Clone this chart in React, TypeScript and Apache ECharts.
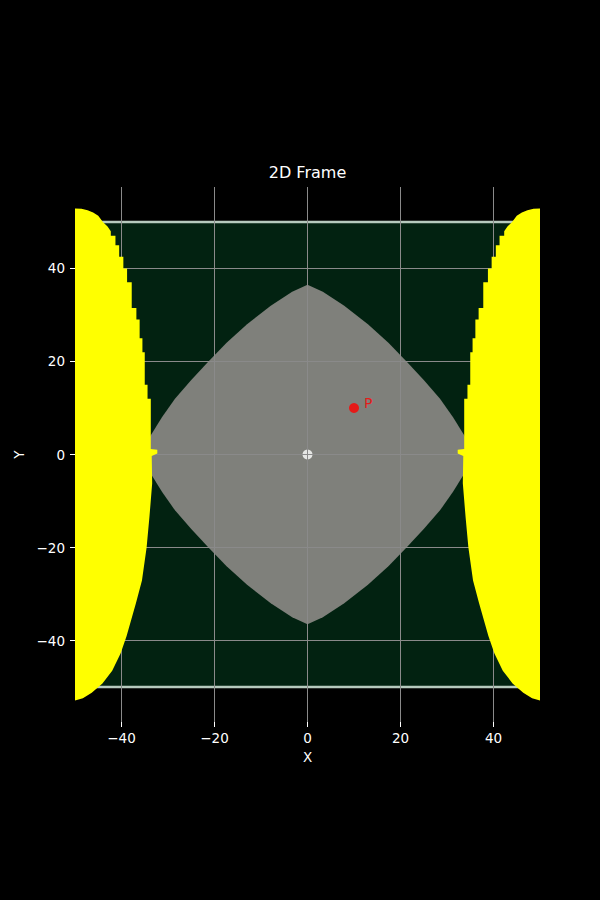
import React, { useEffect, useRef } from "react";
import * as echarts from "echarts";

const TITLE = "2D Frame";
const X_NAME = "X";
const Y_NAME = "Y";
const X_TICKS = [-40, -20, 0, 20, 40];
const Y_TICKS = [-40, -20, 0, 20, 40];
const X_RANGE = [-50, 50];
const Y_RANGE = [-57.5, 57.5];
// frame: [xmin, ymin, xmax, ymax]
const FRAME = [-50, -50, 50, 50];

const GRAY_REGION: number[][] = [
  [0, 36.5], [3.3, 35], [7.9, 32], [13.0, 28], [17.4, 24], [21.3, 20], [25.0, 16], [28.5, 12], [31.3, 8], [33.8, 4], [35.6, 0],
  [33.8, -4], [31.3, -8], [28.5, -12], [25.0, -16], [21.3, -20], [17.4, -24], [13.0, -28], [7.9, -32], [3.3, -35], [0, -36.5],
  [-3.3, -35], [-7.9, -32], [-13.0, -28], [-17.4, -24], [-21.3, -20], [-25.0, -16], [-28.5, -12], [-31.3, -8], [-33.8, -4], [-35.6, 0],
  [-33.8, 4], [-31.3, 8], [-28.5, 12], [-25.0, 16], [-21.3, 20], [-17.4, 24], [-13.0, 28], [-7.9, 32], [-3.3, 35],
];

const YELLOW_LEFT: number[][] = [
  [-50, 52.9], [-48.6, 52.8], [-47.3, 52.5], [-46.1, 52.0], [-45.0, 51.3], [-44.0, 50.0], [-43.0, 49.0],
  [-42.3, 48.0], [-42.3, 47.0], [-41.3, 47.0], [-41.3, 45.0], [-40.5, 45.0], [-40.5, 42.5], [-39.6, 42.5],
  [-39.6, 40.0], [-38.8, 40.0], [-38.8, 37.0], [-37.8, 37.0], [-37.8, 31.5], [-36.8, 31.5], [-36.8, 29.0],
  [-36.1, 29.0], [-36.1, 25.0], [-35.5, 25.0], [-35.5, 22.0], [-35.0, 22.0], [-35.0, 15.0], [-34.4, 15.0],
  [-34.4, 12.0], [-33.7, 12.0], [-33.7, 1.2], [-32.3, 1.0], [-32.3, 0.2], [-33.5, -0.3], [-33.4, -6.2],
  [-34.0, -13.5], [-34.6, -20.0], [-35.6, -27.1], [-36.9, -32.0], [-38.9, -39.0], [-40.2, -42.8],
  [-42.0, -46.5], [-44.1, -49.2], [-46.4, -51.2], [-48.3, -52.4], [-50, -52.9],
];

const YELLOW_RIGHT: number[][] = [
  [50, 52.9], [48.6, 52.8], [47.3, 52.5], [46.1, 52.0], [45.0, 51.3], [44.0, 50.0], [43.0, 49.0],
  [42.3, 48.0], [42.3, 47.0], [41.3, 47.0], [41.3, 45.0], [40.5, 45.0], [40.5, 42.5], [39.6, 42.5],
  [39.6, 40.0], [38.8, 40.0], [38.8, 37.0], [37.8, 37.0], [37.8, 31.5], [36.8, 31.5], [36.8, 29.0],
  [36.1, 29.0], [36.1, 25.0], [35.5, 25.0], [35.5, 22.0], [35.0, 22.0], [35.0, 15.0], [34.4, 15.0],
  [34.4, 12.0], [33.7, 12.0], [33.7, 1.2], [32.3, 1.0], [32.3, 0.2], [33.5, -0.3], [33.4, -6.2],
  [34.0, -13.5], [34.6, -20.0], [35.6, -27.1], [36.9, -32.0], [38.9, -39.0], [40.2, -42.8],
  [42.0, -46.5], [44.1, -49.2], [46.4, -51.2], [48.3, -52.4], [50, -52.9],
];

const ORIGIN = [0, 0];
const POINT_P = [10, 10];
const POINT_P_LABEL = "P";

const FONT = "DejaVu Sans";
const fmt = (v: number) => String(v).replace("-", "\u2212");

function polygonSeries(name: string, pts: number[][], color: string, z: number) {
  return {
    type: "custom",
    name,
    z,
    silent: true,
    clip: true,
    data: [[0, 0]],
    renderItem: (_params: any, api: any) => ({
      type: "polygon",
      shape: { points: pts.map((p) => api.coord(p)) },
      style: { fill: color, stroke: "none" },
    }),
  };
}

export default function App() {
  const ref = useRef<HTMLDivElement>(null);
  useEffect(() => {
    if (!ref.current) return;
    const chart = echarts.init(ref.current, null, { renderer: "svg" });
    const axisCommon = {
      axisLine: { show: false, onZero: false },
      axisTick: { show: true, inside: false, length: 5, lineStyle: { color: "#ffffff", width: 1 } },
      splitLine: { show: true, lineStyle: { color: "#8a8a8a", width: 1 } },
      nameLocation: "middle",
      nameTextStyle: { color: "#ffffff", fontFamily: FONT, fontSize: 13.5 },
      z: 3,
    };
    chart.setOption({
      animation: false,
      backgroundColor: "#000000",
      title: {
        text: TITLE,
        left: 302.5,
        top: 159,
        textAlign: "center",
        textStyle: { color: "#ffffff", fontFamily: FONT, fontSize: 16, fontWeight: "normal" },
      },
      grid: { left: 75, right: 60, top: 187, height: 535, containLabel: false },
      xAxis: {
        ...axisCommon,
        type: "value",
        min: X_RANGE[0],
        max: X_RANGE[1],
        name: X_NAME,
        nameGap: 28,
        axisTick: { ...axisCommon.axisTick, customValues: X_TICKS },
        axisLabel: {
          customValues: X_TICKS,
          formatter: fmt,
          color: "#ffffff",
          fontFamily: FONT,
          fontSize: 13.5,
          margin: 9,
        },
      },
      yAxis: {
        ...axisCommon,
        type: "value",
        min: Y_RANGE[0],
        max: Y_RANGE[1],
        name: Y_NAME,
        nameGap: 39,
        nameRotate: 90,
        axisTick: { ...axisCommon.axisTick, customValues: Y_TICKS },
        axisLabel: {
          customValues: Y_TICKS,
          formatter: fmt,
          color: "#ffffff",
          fontFamily: FONT,
          fontSize: 13.5,
          margin: 10,
        },
      },
      series: [
        {
          type: "custom",
          name: "frame",
          z: 1,
          silent: true,
          clip: true,
          data: [[0, 0]],
          renderItem: (_params: any, api: any) => {
            const tl = api.coord([FRAME[0], FRAME[3]]);
            const br = api.coord([FRAME[2], FRAME[1]]);
            return {
              type: "rect",
              shape: { x: tl[0], y: tl[1], width: br[0] - tl[0], height: br[1] - tl[1] },
              style: { fill: "#022211", stroke: "#b6cabe", lineWidth: 2.5 },
            };
          },
        },
        polygonSeries("region", GRAY_REGION, "#7f807b", 1),
        {
          type: "scatter",
          name: "origin",
          z: 1,
          silent: true,
          symbol: "circle",
          symbolSize: 10,
          itemStyle: { color: "#ffffff" },
          data: [ORIGIN],
        },
        polygonSeries("left", YELLOW_LEFT, "#ffff00", 5),
        polygonSeries("right", YELLOW_RIGHT, "#ffff00", 5),
        {
          type: "scatter",
          name: "P",
          z: 6,
          silent: true,
          symbol: "circle",
          symbolSize: 10,
          itemStyle: { color: "#ff0000" },
          label: {
            show: true,
            formatter: POINT_P_LABEL,
            position: "right",
            distance: 5,
            offset: [0, -5],
            color: "#ff0000",
            fontFamily: FONT,
            fontSize: 14,
          },
          data: [POINT_P],
        },
      ],
    });
    return () => chart.dispose();
  }, []);
  return (
    <div
      ref={ref}
      style={{ position: "fixed", left: 0, top: 0, width: 600, height: 900, background: "#000" }}
    />
  );
}
